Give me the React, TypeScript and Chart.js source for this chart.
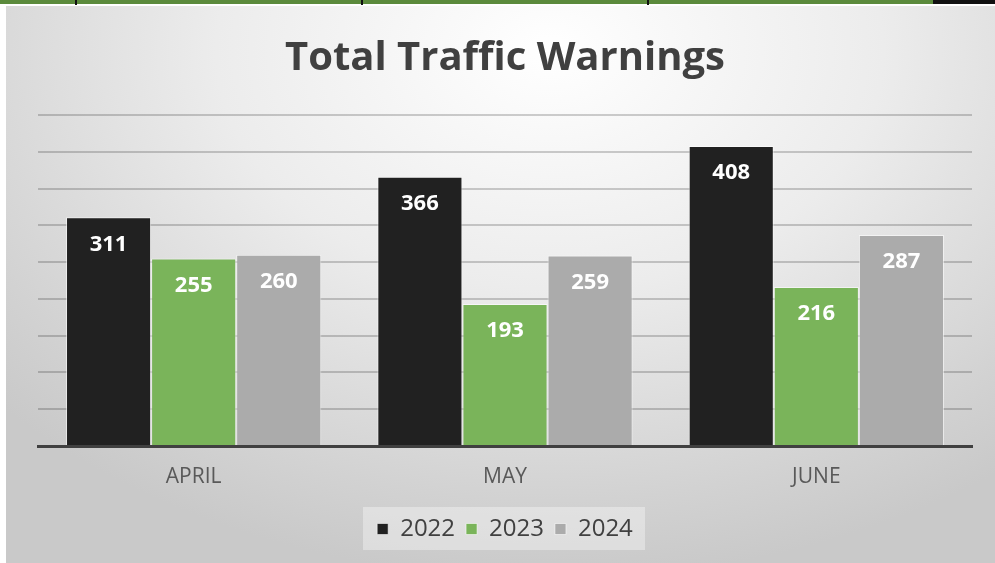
import React, { useEffect, useRef } from "react";
import { Chart, registerables } from "chart.js";

Chart.register(...registerables);

const categories = ["APRIL", "MAY", "JUNE"];
const seriesNames = ["2022", "2023", "2024"];
const values2022 = [311, 366, 408];
const values2023 = [255, 193, 216];
const values2024 = [260, 259, 287];
const seriesColors = ["#212121", "#7ab45a", "#ababab"];
const titleText = "Total Traffic Warnings";

const labelPlugin = {
  id: "valueLabels",
  afterDatasetsDraw(chart: any) {
    const ctx = chart.ctx;
    ctx.save();
    ctx.font = "bold 22px 'Open Sans', sans-serif";
    ctx.fillStyle = "#ffffff";
    ctx.textAlign = "center";
    ctx.textBaseline = "middle";
    chart.data.datasets.forEach((ds: any, i: number) => {
      const meta = chart.getDatasetMeta(i);
      meta.data.forEach((bar: any, j: number) => {
        ctx.fillText(String(ds.data[j]), bar.x, bar.y + 27);
      });
    });
    ctx.restore();
  },
};

const legendBgPlugin = {
  id: "legendBg",
  beforeDraw(chart: any) {
    const lg = chart.legend;
    if (!lg) return;
    const ctx = chart.ctx;
    ctx.save();
    ctx.fillStyle = "rgba(255,255,255,0.35)";
    const w = 282;
    const x = 363;
    const cy = 528;
    ctx.fillRect(x, cy - 21, w, 43);
    ctx.restore();
  },
};

export default function App() {
  const ref = useRef<HTMLCanvasElement>(null);
  useEffect(() => {
    if (!ref.current) return;
    const chart = new Chart(ref.current, {
      type: "bar",
      data: {
        labels: categories,
        datasets: [values2022, values2023, values2024].map((d, i) => ({
          label: seriesNames[i],
          data: d,
          backgroundColor: seriesColors[i],
          borderColor: "rgba(255,255,255,0.55)",
          borderWidth: 1,
          categoryPercentage: 0.82,
          barPercentage: 1.0,
        })),
      },
      options: {
        animation: false,
        responsive: false,
        maintainAspectRatio: false,
        layout: { padding: { left: 38, right: 23, top: 35, bottom: 12 } },
        plugins: {
          title: {
            display: true,
            text: titleText,
            color: "#404040",
            font: { family: "'Open Sans', sans-serif", size: 40, weight: "bold" },
            padding: { top: 0, bottom: 32 },
          },
          legend: {
            position: "bottom",
            labels: {
              color: "#404040",
              font: { family: "'Open Sans', sans-serif", size: 24 },
              boxWidth: 11,
              boxHeight: 11,
              padding: 11,
            },
          },
          tooltip: { enabled: false },
        },
        scales: {
          x: {
            grid: { display: false, drawTicks: false },
            border: { display: true, color: "#404040", width: 3 },
            ticks: {
              color: "#595959",
              font: { family: "'Open Sans', sans-serif", size: 21 },
              padding: 18,
            },
            afterFit(scale: any) {
              scale.height = 60;
            },
          },
          y: {
            min: 0,
            max: 450,
            z: 1,
            ticks: { display: false, stepSize: 50 },
            grid: { color: "rgba(0,0,0,0.19)", lineWidth: 2, drawTicks: false },
            border: { display: false },
          },
        },
      },
      plugins: [labelPlugin, legendBgPlugin],
    });
    return () => chart.destroy();
  }, []);

  return (
    <div
      style={{
        position: "fixed",
        left: 0,
        top: 0,
        width: 995,
        height: 563,
        background: "#ffffff",
        overflow: "hidden",
      }}
    >
      <div style={{ position: "absolute", left: 0, top: 0, width: 995, height: 4, background: "#5b8a3c" }} />
      <div style={{ position: "absolute", left: 933, top: 0, width: 62, height: 4, background: "#111" }} />
      <div style={{ position: "absolute", left: 75, top: 0, width: 2, height: 5, background: "#111" }} />
      <div style={{ position: "absolute", left: 361, top: 0, width: 2, height: 5, background: "#111" }} />
      <div style={{ position: "absolute", left: 647, top: 0, width: 2, height: 5, background: "#111" }} />
      <div
        style={{
          position: "absolute",
          left: 6,
          top: 6,
          width: 989,
          height: 557,
          background:
            "radial-gradient(ellipse 75% 95% at 55% 8%, #ffffff 0%, #ececec 45%, #d2d2d2 85%, #c9c9c9 100%)",
        }}
      />
      <canvas ref={ref} width={995} height={563} style={{ position: "absolute", left: 0, top: 0 }} />
    </div>
  );
}
